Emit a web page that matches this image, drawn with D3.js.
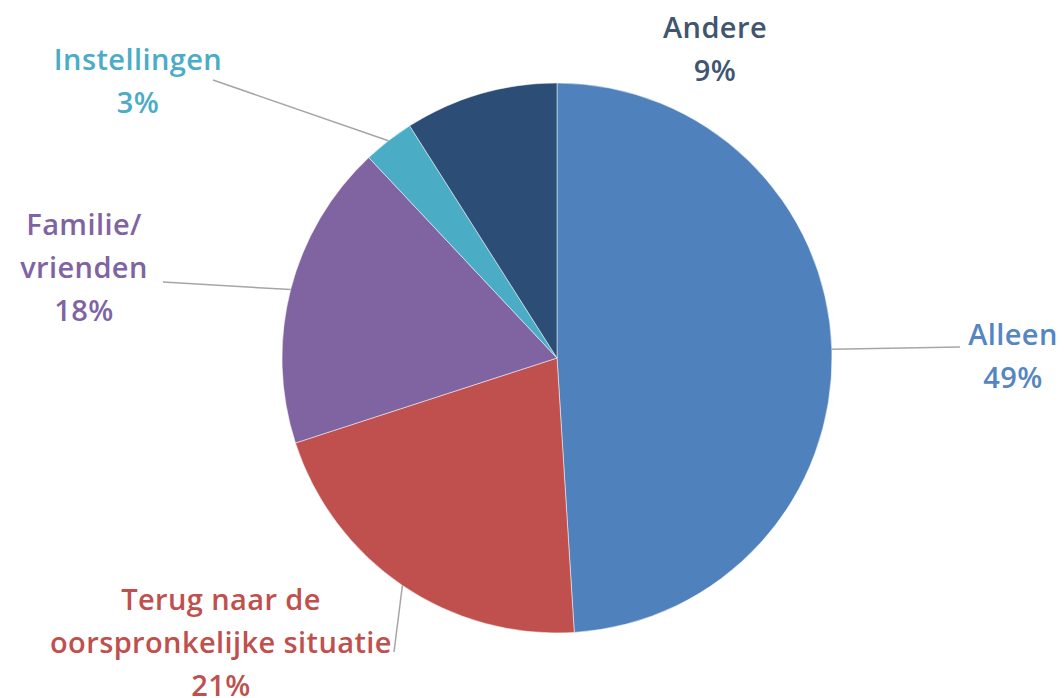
<!DOCTYPE html>
<html>
<head>
<meta charset="utf-8">
<script src="https://cdn.jsdelivr.net/npm/d3@7"></script>
<style>
  body { margin: 0; background: #ffffff; }
  svg text { font-family: "Open Sans", "Noto Sans", sans-serif; font-weight: 600; letter-spacing: 0.4px; }
</style>
</head>
<body>
<script>
// data
var categories = ["Alleen", "Terug naar de oorspronkelijke situatie", "Familie/ vrienden", "Instellingen", "Andere"];
var values = [49, 21, 18, 3, 9];
var labelLines = [["Alleen"], ["Terug naar de", "oorspronkelijke situatie"], ["Familie/", "vrienden"], ["Instellingen"], ["Andere"]];
var sliceColors = ["#4f81bd", "#c0504d", "#8064a2", "#4bacc6", "#2c4d75"];
var textColors = ["#5585c2", "#c0504d", "#8064a2", "#4bacc6", "#40556f"];

var width = 1064, height = 698,
    cx = 557, cy = 358,
    radius = 275,
    fontSize = 29,
    lineHeight = 43;

// label placement (centre x, first baseline) and where the leader line meets the label
var labelPos = [
  { x: 1013, y: 345, lx: 960, ly: 347, line: true },
  { x: 221, y: 610, lx: 394, ly: 652, line: true },
  { x: 84, y: 235, lx: 163, ly: 282, line: true },
  { x: 138, y: 70, lx: 213, ly: 80, line: true },
  { x: 715, y: 38, line: false }
];

var svg = d3.select("body").append("svg")
    .attr("width", width)
    .attr("height", height);

var g = svg.append("g")
    .attr("transform", "translate(" + cx + "," + cy + ")");

var pie = d3.pie().sort(null).value(function (d) { return d; });
var arcs = pie(values);

var arc = d3.arc().innerRadius(0).outerRadius(radius);
var edgeArc = d3.arc().innerRadius(radius).outerRadius(radius);

g.selectAll("path.slice")
  .data(arcs)
  .enter().append("path")
    .attr("class", "slice")
    .attr("d", arc)
    .attr("fill", function (d, i) { return sliceColors[i]; })
    .attr("stroke", "#ffffff")
    .attr("stroke-width", 0.5);

// leader lines from the slice edge to the label
g.selectAll("line.leader")
  .data(arcs.filter(function (d) { return labelPos[d.index].line; }))
  .enter().append("line")
    .attr("class", "leader")
    .attr("x1", function (d) { return edgeArc.centroid(d)[0]; })
    .attr("y1", function (d) { return edgeArc.centroid(d)[1]; })
    .attr("x2", function (d) { return labelPos[d.index].lx - cx; })
    .attr("y2", function (d) { return labelPos[d.index].ly - cy; })
    .attr("stroke", "#a6a6a6")
    .attr("stroke-width", 1.5);

// labels: category lines + percentage
var labels = svg.selectAll("text.label")
  .data(arcs)
  .enter().append("text")
    .attr("class", "label")
    .attr("text-anchor", "middle")
    .attr("font-size", fontSize)
    .attr("fill", function (d, i) { return textColors[i]; });

labels.each(function (d, i) {
  var t = d3.select(this);
  var lines = labelLines[i].concat([values[i] + "%"]);
  lines.forEach(function (s, k) {
    t.append("tspan")
      .attr("x", labelPos[i].x)
      .attr("y", labelPos[i].y + k * lineHeight)
      .text(s);
  });
});
</script>
</body>
</html>
